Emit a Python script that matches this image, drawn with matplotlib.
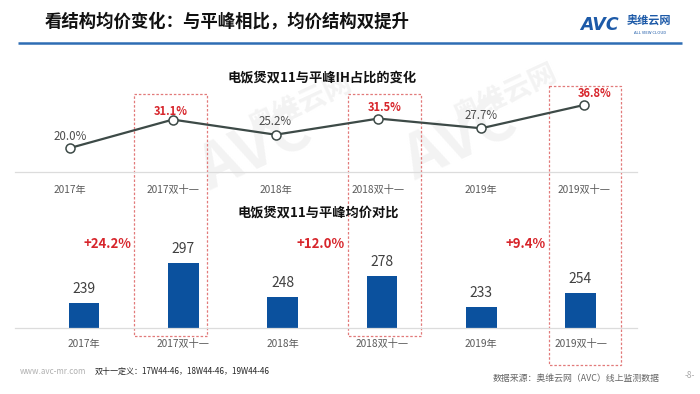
import matplotlib
matplotlib.use("Agg")
import matplotlib.pyplot as plt
from matplotlib.patches import Rectangle

plt.rcParams['font.family'] = ['Noto Sans CJK SC', 'DejaVu Sans']

# ---------------- data ----------------
categories = ['2017年', '2017双十一', '2018年', '2018双十一', '2019年', '2019双十一']
ih_share = [20.0, 31.1, 25.2, 31.5, 27.7, 36.8]
ih_labels = ['20.0%', '31.1%', '25.2%', '31.5%', '27.7%', '36.8%']
ih_highlight = [False, True, False, True, False, True]
avg_price = [239, 297, 248, 278, 233, 254]
growth_labels = ['+24.2%', '+12.0%', '+9.4%']

main_title = '看结构均价变化：与平峰相比，均价结构双提升'
top_title = '电饭煲双11与平峰IH占比的变化'
bottom_title = '电饭煲双11与平峰均价对比'
footer_def = '双十一定义：17W44-46，18W44-46，19W44-46'
footer_src = '数据来源：奥维云网（AVC）线上监测数据'

W, H = 700, 394
RED = '#d7252b'
BLUE_BAR = '#0b519e'
GRAY_TXT = '#4d4d4d'
LINE_C = '#3d4a47'
BOX_C = '#e27a7a'

fig = plt.figure(figsize=(7, 3.94), dpi=100)
fig.patch.set_facecolor('white')


def px_rect(l, t, r, b):
    return [l / W, 1 - b / H, (r - l) / W, (b - t) / H]


# overlay in pixel coordinates
ov = fig.add_axes([0, 0, 1, 1])
ov.set_xlim(0, W)
ov.set_ylim(H, 0)
ov.axis('off')

# faint watermarks
for (x, y) in [(255, 150), (460, 140)]:
    ov.text(x, y, 'AVC', fontsize=44, fontweight='bold', fontstyle='italic',
            color='#f3f3f3', rotation=25, ha='center', va='center', zorder=0)
    ov.text(x + 45, y - 45, '奥维云网', fontsize=20, fontweight='bold',
            color='#f3f3f3', rotation=25, ha='center', va='center', zorder=0)

# main title and rule
ov.text(45, 22, main_title, fontsize=12.5, fontweight='bold', color='#111111',
        ha='left', va='center')
ov.plot([18, 682], [43, 43], color='#2e6db4', lw=1.8, solid_capstyle='butt')

# logo
ov.text(580, 25, 'AVC', fontsize=12.5, fontweight='bold', fontstyle='italic',
        color='#1d5aa8', ha='left', va='center', family=['DejaVu Sans'])
ov.text(627, 21, '奥维云网', fontsize=8, fontweight='bold', color='#1d5aa8',
        ha='left', va='center')
ov.text(650, 33, 'ALL VIEW CLOUD', fontsize=3, color='#1d5aa8',
        ha='center', va='center')

# red dashed highlight boxes
boxes = [(134, 94, 207, 336), (348, 94, 421, 336), (549, 86, 621, 365)]
for (l, t, r, b) in boxes:
    ov.add_patch(Rectangle((l, t), r - l, b - t, fill=False, ec=BOX_C,
                           lw=0.9, ls=(0, (2, 1.5)), zorder=1))

# growth labels (right-aligned against the boxes)
for (l, t, r, b), g in zip(boxes, growth_labels):
    ov.text(l - 3, 244, g, fontsize=9.5, fontweight='bold', color=RED,
            ha='right', va='center')

# footer
ov.text(20, 371, 'www.avc-mr.com', fontsize=5.8, color='#b0b0b0',
        ha='left', va='center')
ov.text(95, 371, footer_def, fontsize=5.8, color='#222222',
        ha='left', va='center')
ov.text(660, 378, footer_src, fontsize=6.4, color='#666666',
        ha='right', va='center')
ov.text(690, 376, '-8-', fontsize=6, color='#aaaaaa', ha='center', va='center')

# ---------------- top line chart ----------------
ax1 = fig.add_axes(px_rect(15, 88, 637, 172))
ax1.patch.set_alpha(0)
x = list(range(len(categories)))
ax1.set_xlim(-(70 - 15) / 102.8, 5 + (637 - 584) / 102.8)
ax1.set_ylim(20 - 24 / 2.56, 20 + 60 / 2.56)
ax1.plot(x, ih_share, color=LINE_C, lw=1.6, marker='o', markersize=6.5,
         markerfacecolor='white', markeredgecolor=LINE_C, markeredgewidth=1.1,
         zorder=3, clip_on=False)
offsets = [(0, 12), (-2, 8), (0, 13), (6, 11), (0, 13), (11, 11)]
for xi, yi, lab, hl, off in zip(x, ih_share, ih_labels, ih_highlight, offsets):
    if hl:
        ax1.annotate(lab, (xi, yi), xytext=off, textcoords='offset pixels',
                     ha='center', va='center', fontsize=8, fontweight='bold',
                     color=RED)
    else:
        ax1.annotate(lab, (xi, yi), xytext=off, textcoords='offset pixels',
                     ha='center', va='center', fontsize=8.3, color=GRAY_TXT)
for s in ['top', 'right', 'left']:
    ax1.spines[s].set_visible(False)
ax1.spines['bottom'].set_color('#dcdcdc')
ax1.spines['bottom'].set_linewidth(0.9)
ax1.set_yticks([])
ax1.set_xticks(x)
ax1.set_xticklabels(categories, fontsize=7.3, color='#5a5a5a')
ax1.tick_params(axis='x', length=0, pad=9)
ov.text(322, 78, top_title, fontsize=9.5, fontweight='bold', color='#111111',
        ha='center', va='center')

# ---------------- bottom bar chart ----------------
ax2 = fig.add_axes(px_rect(15, 225, 637, 328))
ax2.patch.set_alpha(0)
ax2.set_xlim(-(84 - 15) / 99.3, 5 + (637 - 580.5) / 99.3)
ax2.set_ylim(202.5, 202.5 + 103 / 0.6875)
bars = ax2.bar(x, avg_price, width=0.31, color=BLUE_BAR, zorder=2)
for xi, v in zip(x, avg_price):
    ax2.annotate(str(v), (xi, v), xytext=(0, 14), textcoords='offset pixels',
                 ha='center', va='center', fontsize=10, color='#404040')
for s in ['top', 'right', 'left']:
    ax2.spines[s].set_visible(False)
ax2.spines['bottom'].set_color('#dcdcdc')
ax2.spines['bottom'].set_linewidth(0.9)
ax2.set_yticks([])
ax2.set_xticks(x)
ax2.set_xticklabels(categories, fontsize=7.3, color='#5a5a5a')
ax2.tick_params(axis='x', length=0, pad=8)
ov.text(318, 213, bottom_title, fontsize=9.5, fontweight='bold', color='#111111',
        ha='center', va='center')

fig.savefig('out.png', dpi=100, facecolor='white')
